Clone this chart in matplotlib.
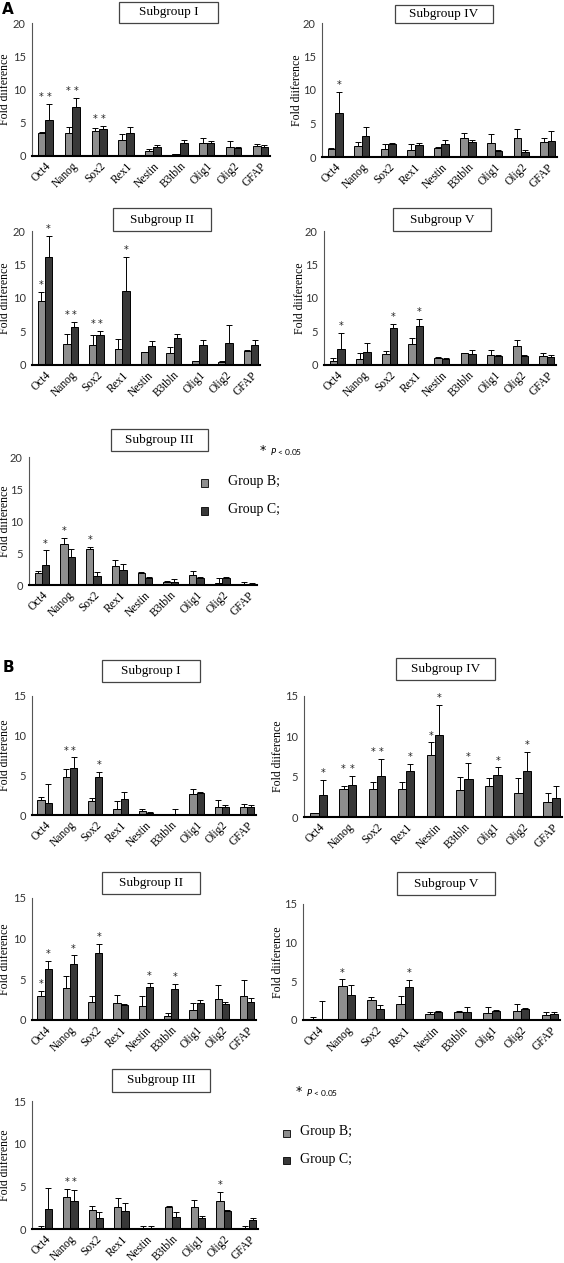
import matplotlib
matplotlib.use("Agg")
import matplotlib.pyplot as plt
from matplotlib.patches import Rectangle
import numpy as np

W, H = 564, 1263
genes = ["Oct4", "Nanog", "Sox2", "Rex1", "Nestin", "B3tbln", "Olig1", "Olig2", "GFAP"]

# ---------------- Data (A: Group B / Group C means, upper errors, significance) ----------------
A1_b = [3.4, 3.5, 3.75, 2.35, 0.75, 0.3, 2.0, 1.3, 1.5]
A1_be = [0.25, 0.9, 0.4, 0.95, 0.25, 0.05, 0.7, 0.95, 0.3]
A1_c = [5.4, 7.3, 4.0, 3.4, 1.4, 1.9, 2.0, 1.2, 1.4]
A1_ce = [2.35, 1.35, 0.55, 0.95, 0.2, 0.5, 0.2, 0.15, 0.2]
A1_bs = [1, 1, 1, 0, 0, 0, 0, 0, 0]
A1_cs = [1, 1, 1, 0, 0, 0, 0, 0, 0]

A4_b = [1.15, 1.6, 1.25, 1.1, 1.4, 2.85, 2.15, 2.9, 2.25]
A4_be = [0.25, 0.65, 0.65, 0.9, 0.1, 0.75, 1.35, 1.35, 0.65]
A4_c = [6.6, 3.15, 2.0, 1.8, 2.0, 2.25, 0.9, 0.7, 2.35]
A4_ce = [3.15, 1.35, 0.1, 0.35, 0.6, 0.25, 0.15, 0.35, 1.5]
A4_bs = [0, 0, 0, 0, 0, 0, 0, 0, 0]
A4_cs = [1, 0, 0, 0, 0, 0, 0, 0, 0]

A2_b = [9.5, 3.1, 3.0, 2.45, 1.95, 1.75, 0.55, 0.5, 2.1]
A2_be = [1.4, 1.6, 1.55, 1.5, 0.05, 1.0, 0.1, 0.05, 0.1]
A2_c = [16.1, 5.7, 4.5, 11.05, 2.85, 4.0, 3.0, 3.25, 3.0]
A2_ce = [3.1, 0.75, 0.6, 5.0, 0.75, 0.7, 0.7, 2.65, 0.8]
A2_bs = [1, 1, 1, 0, 0, 0, 0, 0, 0]
A2_cs = [1, 1, 1, 1, 0, 0, 0, 0, 0]

A5_b = [0.65, 0.9, 1.7, 3.1, 1.0, 1.75, 1.5, 2.85, 1.4]
A5_be = [0.35, 0.85, 0.4, 1.0, 0.25, 0.05, 0.7, 0.9, 0.35]
A5_c = [2.45, 1.95, 5.5, 5.85, 0.85, 1.65, 1.35, 1.3, 1.25]
A5_ce = [2.35, 1.3, 0.55, 0.95, 0.2, 0.65, 0.15, 0.15, 0.2]
A5_bs = [0, 0, 0, 0, 0, 0, 0, 0, 0]
A5_cs = [1, 0, 1, 1, 0, 0, 0, 0, 0]

A3_b = [1.95, 6.4, 5.65, 2.9, 1.8, 0.45, 1.55, 0.35, 0.15]
A3_be = [0.2, 0.9, 0.35, 1.0, 0.25, 0.1, 0.7, 0.8, 0.25]
A3_c = [3.05, 4.3, 1.45, 2.35, 1.05, 0.4, 1.05, 1.15, 0.15]
A3_ce = [2.35, 1.35, 0.55, 0.95, 0.15, 0.6, 0.15, 0.1, 0.1]
A3_bs = [0, 1, 1, 0, 0, 0, 0, 0, 0]
A3_cs = [1, 0, 0, 0, 0, 0, 0, 0, 0]

# ---------------- Data (B) ----------------
B1_b = [1.95, 4.85, 1.8, 0.75, 0.45, 0.1, 2.65, 1.0, 1.0]
B1_be = [0.35, 0.9, 0.4, 1.05, 0.3, 0.05, 0.65, 0.9, 0.4]
B1_c = [1.45, 5.9, 4.85, 2.0, 0.25, 0.15, 2.75, 1.0, 1.0]
B1_ce = [2.4, 1.35, 0.6, 0.95, 0.1, 0.55, 0.2, 0.2, 0.25]
B1_bs = [0, 1, 0, 0, 0, 0, 0, 0, 0]
B1_cs = [0, 1, 1, 0, 0, 0, 0, 0, 0]

B4_b = [0.5, 3.45, 3.45, 3.45, 7.65, 3.3, 3.85, 3.0, 1.9]
B4_be = [0.05, 0.35, 0.85, 0.85, 1.6, 1.7, 1.0, 1.8, 1.05]
B4_c = [2.7, 4.0, 5.05, 5.65, 10.15, 4.65, 5.2, 5.75, 2.3]
B4_ce = [1.9, 1.1, 2.15, 0.95, 3.7, 2.0, 0.95, 2.3, 1.55]
B4_bs = [0, 1, 1, 0, 1, 0, 0, 0, 0]
B4_cs = [1, 1, 1, 1, 1, 1, 1, 1, 0]

B2_b = [2.9, 3.9, 2.2, 2.05, 1.7, 0.5, 1.2, 2.55, 2.9]
B2_be = [0.7, 1.5, 0.7, 1.0, 1.3, 0.4, 0.95, 1.7, 2.05]
B2_c = [6.3, 6.9, 8.2, 1.8, 4.0, 3.85, 2.15, 1.95, 2.25]
B2_ce = [1.0, 1.05, 1.2, 0.2, 0.6, 0.6, 0.35, 0.3, 0.4]
B2_bs = [1, 0, 0, 0, 0, 0, 0, 0, 0]
B2_cs = [1, 1, 1, 0, 1, 1, 0, 0, 0]

B5_b = [0.05, 4.4, 2.65, 2.05, 0.8, 1.05, 0.95, 1.2, 0.7]
B5_be = [0.3, 0.85, 0.35, 1.05, 0.25, 0.05, 0.7, 0.85, 0.35]
B5_c = [0.1, 3.25, 1.4, 4.3, 1.05, 1.0, 1.15, 1.4, 0.8]
B5_ce = [2.35, 1.25, 0.6, 0.85, 0.15, 0.65, 0.15, 0.2, 0.25]
B5_bs = [0, 1, 0, 0, 0, 0, 0, 0, 0]
B5_cs = [0, 0, 0, 1, 0, 0, 0, 0, 0]

B3_b = [0.05, 3.8, 2.25, 2.55, 0.05, 2.55, 2.55, 3.3, 0.05]
B3_be = [0.25, 0.85, 0.4, 1.05, 0.25, 0.15, 0.8, 1.0, 0.3]
B3_c = [2.35, 3.3, 1.3, 2.1, 0.05, 1.4, 1.3, 2.1, 1.0]
B3_ce = [2.45, 1.3, 0.65, 0.9, 0.25, 0.65, 0.2, 0.15, 0.3]
B3_bs = [0, 1, 0, 0, 0, 0, 0, 1, 0]
B3_cs = [0, 1, 0, 0, 0, 0, 0, 0, 0]

y_ticks_A = [0, 5, 10, 15, 20]
y_ticks_B = [0, 5, 10, 15]
group_labels = ["Group B;", "Group C;"]

COL_B = "#8e8e8e"
COL_C = "#383838"
SERIF = "Liberation Serif"
SANS = "Lato"

fig = plt.figure(figsize=(W / 100, H / 100), dpi=100)


def fx(x):
    return x / W


def fy(y):
    return 1 - y / H


def panel(box, title_box, title, yl_x, yticks, b, be, c, ce, bs, cs):
    x0, y0, x1, y1 = box
    ax = fig.add_axes([fx(x0), fy(y1), (x1 - x0) / W, (y1 - y0) / H])
    x = np.arange(len(genes))
    w = 0.285
    ax.bar(x - w / 2, b, w, color=COL_B, edgecolor="black", linewidth=0.7, zorder=2)
    ax.bar(x + w / 2, c, w, color=COL_C, edgecolor="black", linewidth=0.7, zorder=2)
    z = np.zeros(len(genes))
    ax.errorbar(x - w / 2, b, yerr=[z, be], fmt="none", ecolor="black",
                elinewidth=0.7, capsize=2.2, capthick=0.7, zorder=3)
    ax.errorbar(x + w / 2, c, yerr=[z, ce], fmt="none", ecolor="black",
                elinewidth=0.7, capsize=2.2, capthick=0.7, zorder=3)
    top = yticks[-1]
    off = top * 0.015
    for i in range(len(genes)):
        tb = b[i] + be[i]
        tc = c[i] + ce[i]
        if bs[i] and cs[i] and abs(tb - tc) < 0.23 * top:
            tb = tc = max(tb, tc)
        if bs[i]:
            ax.text(x[i] - w / 2, tb + off, "*", ha="center", va="bottom",
                    fontsize=7, color="#222222")
        if cs[i]:
            ax.text(x[i] + w / 2, tc + off, "*", ha="center", va="bottom",
                    fontsize=7, color="#222222")
    ax.set_xlim(-0.5, 8.35)
    ax.set_ylim(0, top)
    ax.set_yticks(yticks)
    ax.set_yticklabels([str(t) for t in yticks], fontfamily=SANS, fontsize=8, color="#333333")
    ax.set_xticks(x)
    ax.set_xticklabels(genes, rotation=45, ha="right", rotation_mode="anchor",
                       fontfamily=SERIF, fontsize=8.3)
    ax.tick_params(axis="both", length=0, pad=3)
    ax.tick_params(axis="y", pad=4.5)
    for s in ["top", "right"]:
        ax.spines[s].set_visible(False)
    ax.spines["left"].set_linewidth(0.8)
    ax.spines["left"].set_color("#555555")
    ax.spines["bottom"].set_linewidth(1.5)
    ax.patch.set_alpha(0)
    # title box
    tx0, ty0, tx1, ty1 = title_box
    fig.patches.append(Rectangle((fx(tx0), fy(ty1)), (tx1 - tx0) / W, (ty1 - ty0) / H,
                                 transform=fig.transFigure, facecolor="white",
                                 edgecolor="#444444", linewidth=0.9))
    fig.text(fx((tx0 + tx1) / 2), fy((ty0 + ty1) / 2), title, ha="center", va="center",
             fontfamily=SERIF, fontsize=9.5)
    fig.text(fx(yl_x), fy((y0 + y1) / 2), "Fold diiference", rotation=90, ha="center",
             va="center", fontfamily=SERIF, fontsize=8.5)
    return ax


panel((32, 23, 270, 156), (119, 2, 218, 23), "Subgroup I", 5, y_ticks_A,
      A1_b, A1_be, A1_c, A1_ce, A1_bs, A1_cs)
panel((322, 23, 557, 157), (395, 5, 493, 23), "Subgroup IV", 297, y_ticks_A,
      A4_b, A4_be, A4_c, A4_ce, A4_bs, A4_cs)
panel((32, 231, 260, 365), (113, 208, 211, 231), "Subgroup II", 5, y_ticks_A,
      A2_b, A2_be, A2_c, A2_ce, A2_bs, A2_cs)
panel((324, 231, 556, 365), (393, 208, 491, 231), "Subgroup V", 300, y_ticks_A,
      A5_b, A5_be, A5_c, A5_ce, A5_bs, A5_cs)
panel((29, 457, 257, 585), (111, 429, 208, 451), "Subgroup III", 5, y_ticks_A,
      A3_b, A3_be, A3_c, A3_ce, A3_bs, A3_cs)

panel((32, 696, 256, 815), (102, 660, 200, 682), "Subgroup I", 5, y_ticks_B,
      B1_b, B1_be, B1_c, B1_ce, B1_bs, B1_cs)
panel((304, 696, 562, 817), (396, 658, 495, 680), "Subgroup IV", 278, y_ticks_B,
      B4_b, B4_be, B4_c, B4_ce, B4_bs, B4_cs)
panel((32, 898, 256, 1020), (102, 872, 200, 894), "Subgroup II", 5, y_ticks_B,
      B2_b, B2_be, B2_c, B2_ce, B2_bs, B2_cs)
panel((303, 904, 560, 1020), (397, 872, 495, 895), "Subgroup V", 278, y_ticks_B,
      B5_b, B5_be, B5_c, B5_ce, B5_bs, B5_cs)
panel((32, 1101, 258, 1229), (112, 1069, 210, 1092), "Subgroup III", 5, y_ticks_B,
      B3_b, B3_be, B3_c, B3_ce, B3_bs, B3_cs)

# panel letters
fig.text(fx(2), fy(10), "A", fontsize=11, fontweight="bold", fontfamily="DejaVu Sans",
         ha="left", va="center")
fig.text(fx(3), fy(667), "B", fontsize=11, fontweight="bold", fontfamily="DejaVu Sans",
         ha="left", va="center")


def legend(star_xy, mk1, mk2, txt_x):
    sx, sy = star_xy
    fig.text(fx(sx), fy(sy), "*", fontsize=9, ha="center", va="center")
    fig.text(fx(sx + 7), fy(sy + 2), "$P$ < 0.05", fontsize=6, fontfamily=SANS,
             ha="left", va="center")
    for (mx, my), col, lab in zip([mk1, mk2], [COL_B, COL_C], group_labels):
        fig.patches.append(Rectangle((fx(mx - 3.5), fy(my + 3.5)), 7 / W, 7 / H,
                                     transform=fig.transFigure, facecolor=col,
                                     edgecolor="black", linewidth=0.6))
        fig.text(fx(txt_x), fy(my - 1), lab, fontsize=10, fontfamily=SERIF,
                 ha="left", va="center")


legend((263, 450), (205, 483), (205, 511), 228)
legend((299, 1091), (286, 1133), (286, 1160), 300)

fig.savefig("out.png", dpi=100)
